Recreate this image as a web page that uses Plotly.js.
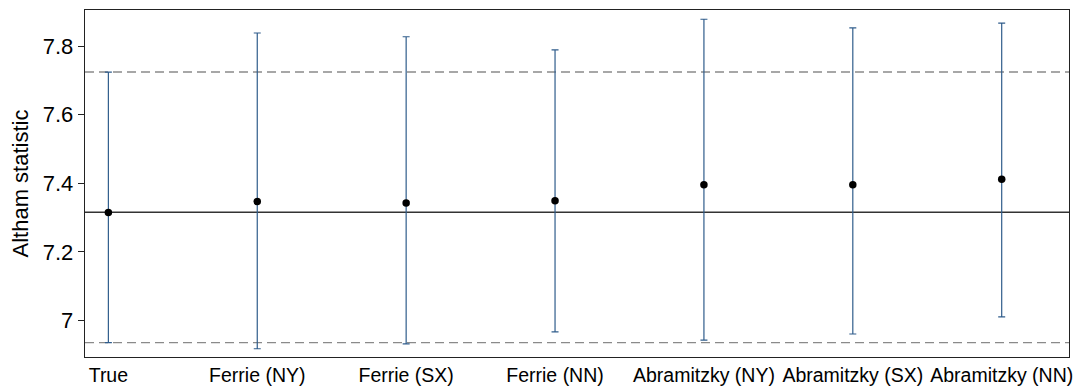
<!DOCTYPE html>
<html>
<head>
<meta charset="utf-8">
<script src="https://cdn.plot.ly/plotly-3.0.1.min.js"></script>
<style>html,body{margin:0;padding:0;background:#fff;}#chart{width:1080px;height:387px;}</style>
</head>
<body>
<div id="chart"></div>
<script>
const categories = ['True','Ferrie (NY)','Ferrie (SX)','Ferrie (NN)','Abramitzky (NY)','Abramitzky (SX)','Abramitzky (NN)'];
const estimates = [7.315, 7.347, 7.343, 7.349, 7.396, 7.396, 7.412];
const upperBounds = [7.724, 7.838, 7.827, 7.789, 7.878, 7.853, 7.867];
const lowerBounds = [6.936, 6.918, 6.932, 6.967, 6.943, 6.961, 7.011];
const trueValue = 7.3157;
const bandLower = 6.936;
const bandUpper = 7.7244;
const yTicks = [7, 7.2, 7.4, 7.6, 7.8];

const font = '"Liberation Sans", Arial, sans-serif';

const trace = {
  type: 'scatter',
  mode: 'markers',
  x: categories,
  y: estimates,
  marker: {color: '#000', size: 7.5},
  error_y: {
    type: 'data',
    symmetric: false,
    array: upperBounds.map((u, i) => u - estimates[i]),
    arrayminus: lowerBounds.map((l, i) => estimates[i] - l),
    color: '#305d8c',
    thickness: 1.2,
    width: 3.5
  },
  showlegend: false,
  hoverinfo: 'x+y'
};

const hline = (y, color, dash) => ({
  type: 'line', xref: 'paper', x0: 0, x1: 1, yref: 'y', y0: y, y1: y,
  line: {color: color, width: 1.3, dash: dash}, layer: 'below'
});

const layout = {
  width: 1080, height: 387,
  margin: {l: 85, r: 11, t: 10, b: 30},
  paper_bgcolor: '#fff', plot_bgcolor: '#fff',
  font: {family: font, color: '#000'},
  xaxis: {
    type: 'category',
    categoryorder: 'array', categoryarray: categories,
    range: [-0.157, 6.452],
    showgrid: false, zeroline: false,
    showline: true, mirror: true, linecolor: '#222', linewidth: 1.3,
    ticks: '', ticklen: 0,
    tickfont: {family: font, size: 19.5, color: '#000'}
  },
  yaxis: {
    range: [6.894, 7.905],
    tickvals: yTicks,
    ticktext: yTicks.map(v => String(v)),
    showgrid: false, zeroline: false,
    showline: true, mirror: true, linecolor: '#222', linewidth: 1.3,
    ticks: 'outside', ticklen: 6, tickwidth: 1, tickcolor: '#222',
    tickfont: {family: font, size: 22, color: '#000'},
    title: {text: 'Altham statistic', font: {family: font, size: 22, color: '#000'}, standoff: 8}
  },
  shapes: [
    hline(bandUpper, '#8a8a8a', '9px,5px'),
    hline(bandLower, '#8a8a8a', '9px,5px'),
    hline(trueValue, '#333', 'solid')
  ]
};

Plotly.newPlot('chart', [trace], layout, {displayModeBar: false, staticPlot: true});
</script>
</body>
</html>
